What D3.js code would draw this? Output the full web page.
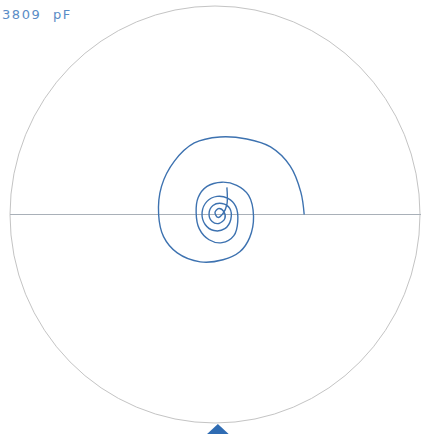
<!DOCTYPE html>
<html><head><meta charset="utf-8">
<script src="https://cdn.jsdelivr.net/npm/d3@7"></script>
<style>html,body{margin:0;padding:0;background:#fff;overflow:hidden}</style>
</head><body><svg id="c" width="421" height="434"></svg>
<script>
// Reflection coefficient trace (real, imag)
const re = [0.435,0.419,0.367,0.271,0.155,0.024,-0.101,-0.198,-0.261,-0.275,-0.251,-0.184,-0.072,0.039,0.121,
0.169,0.188,0.164,0.106,0.034,-0.039,-0.082,-0.092,-0.077,-0.029,0.034,0.092,0.111,0.101,0.063,0.010,-0.039,-0.063,-0.048,-0.005,0.048,0.077,0.072,0.034,-0.010,-0.029,-0.014,0.019,0.048,0.043,0.019,0.000,0.014,0.039,0.058,0.058];
const im = [0.000,0.106,0.232,0.324,0.362,0.372,0.343,0.256,0.135,0.000,-0.106,-0.184,-0.227,-0.217,-0.179,
-0.111,-0.010,0.092,0.140,0.155,0.135,0.082,0.010,-0.068,-0.121,-0.135,-0.101,-0.034,0.039,0.077,0.087,0.063,0.010,-0.048,-0.077,-0.068,-0.024,0.029,0.053,0.043,0.005,-0.034,-0.043,-0.019,0.014,0.029,0.010,-0.014,0.005,0.048,0.130];
const label = "3809  pF";
const markerRe = [0.014];

const svg = d3.select("#c");
const x = d3.scaleLinear().domain([-1,1]).range([10, 420]);
const y = d3.scaleLinear().domain([-1,1]).range([423, 6]);

svg.append("ellipse").attr("cx", x(0)).attr("cy", y(0))
  .attr("rx", x(1)-x(0)).attr("ry", y(-1)-y(0))
  .attr("fill","none").attr("stroke","#c4c4c4").attr("stroke-width",1);
svg.append("line").attr("x1", x(-1)).attr("x2", 421).attr("y1", y(0)).attr("y2", y(0))
  .attr("stroke","#a9b0b8").attr("stroke-width",1);

const pts = re.map((r,i)=>[r, im[i]]);
svg.append("path").datum(pts)
  .attr("d", d3.line().x(d=>x(d[0])).y(d=>y(d[1])).curve(d3.curveCatmullRom))
  .attr("fill","none").attr("stroke","#3d72b0").attr("stroke-width",1.4);

markerRe.forEach(m=>{
  const mx = x(m), my = y(-1)+1;
  svg.append("path").attr("d", `M${mx},${my} L${mx-14},${my+13} L${mx+14},${my+13} Z`)
    .attr("fill","#2f6cb3");
});

svg.append("text").attr("x",2).attr("y",19).text(label)
  .attr("font-family","DejaVu Sans, sans-serif").attr("font-size",13)
  .attr("letter-spacing",1.6)
  .attr("fill","#5a8cc6").style("white-space","pre");
</script></body></html>
